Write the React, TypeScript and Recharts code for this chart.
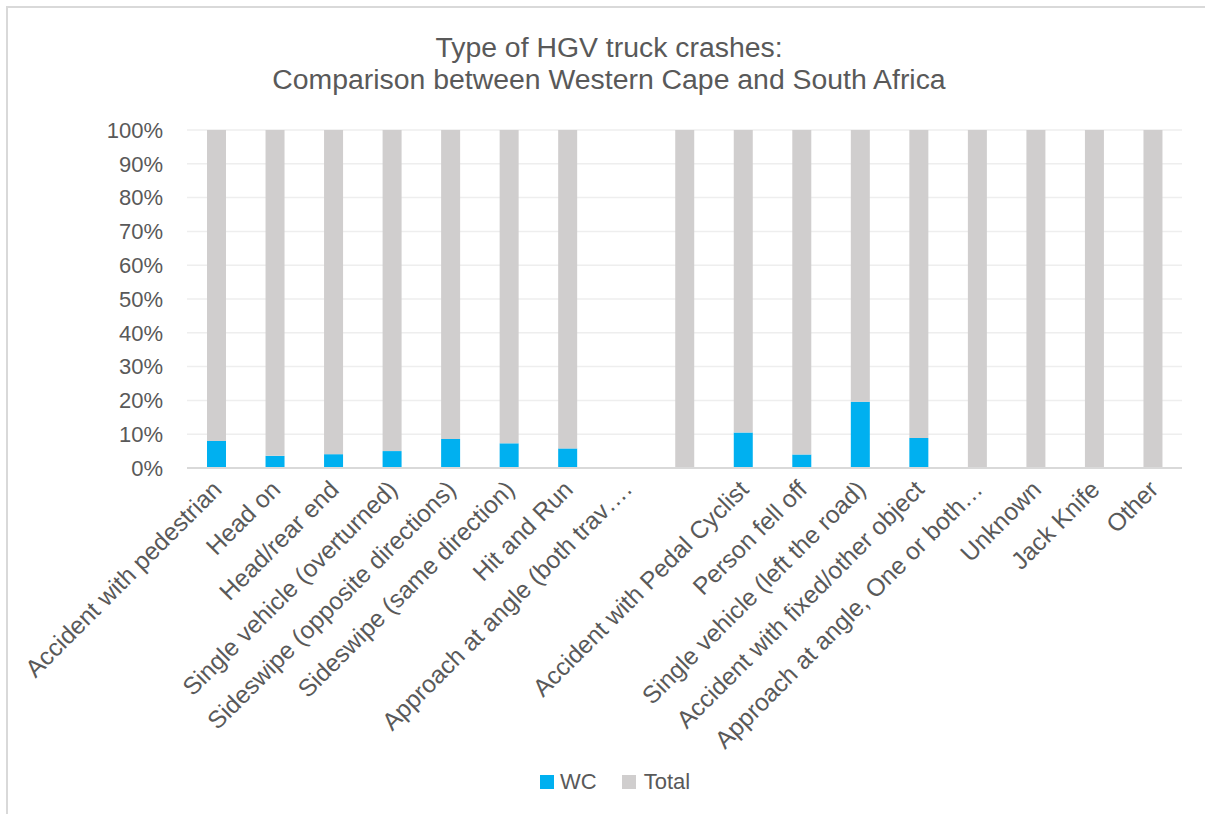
import React from 'react';
import { BarChart, Bar, XAxis, YAxis, CartesianGrid } from 'recharts';

const crashTypes = [
  'Accident with pedestrian',
  'Head on',
  'Head/rear end',
  'Single vehicle (overturned)',
  'Sideswipe (opposite directions)',
  'Sideswipe (same direction)',
  'Hit and Run',
  'Approach at angle (both trav….',
  '',
  'Accident with Pedal Cyclist',
  'Person fell off',
  'Single vehicle (left the road)',
  'Accident with fixed/other object',
  'Approach at angle, One or both…',
  'Unknown',
  'Jack Knife',
  'Other',
];

// share of each crash type (%), Western Cape vs rest of total
const wcShare = [8.0, 3.6, 4.1, 5.0, 8.6, 7.3, 5.8, 0, 0, 10.5, 4.0, 19.6, 8.9, 0, 0, 0, 0];
const totalShare = [92.0, 96.4, 95.9, 95.0, 91.4, 92.7, 94.2, 0, 100, 89.5, 96.0, 80.4, 91.1, 100, 100, 100, 100];

const percentTicks = [0, 10, 20, 30, 40, 50, 60, 70, 80, 90, 100];

const data = crashTypes.map((name, i) => ({ name, wc: wcShare[i], total: totalShare[i] }));

const FONT = '"Liberation Sans", Arial, sans-serif';
const TEXT = '#595959';

const CategoryTick = ({ x, y, payload }: any) => {
  const ax = x + 7;
  const ay = y + 15;
  return (
    <text
      x={ax}
      y={ay}
      transform={`rotate(-45 ${ax} ${ay})`}
      textAnchor="end"
      fill={TEXT}
      fontSize={24.5}
      fontFamily={FONT}
    >
      {payload.value}
    </text>
  );
};

const App = () => {
  return (
    <div style={{ position: 'absolute', left: 0, top: 0, width: 1205, height: 814, overflow: 'hidden', background: '#fff', fontFamily: FONT }}>
      <div
        style={{
          position: 'absolute',
          left: 6,
          top: 6,
          width: 1300,
          height: 900,
          borderTop: '2px solid #D9D9D9',
          borderLeft: '2px solid #D9D9D9',
        }}
      />
      <div style={{ position: 'absolute', left: 0, width: 1218, top: 31, textAlign: 'center', color: TEXT, fontSize: 28.4, lineHeight: '32px' }}>
        <div>Type of HGV truck crashes:</div>
        <div>Comparison between Western Cape and South Africa</div>
      </div>

      <div style={{ position: 'absolute', left: 0, top: 0 }}>
        <BarChart width={1205} height={814} data={data} margin={{ top: 130, right: 23, bottom: 0, left: 0 }}>
          <CartesianGrid vertical={false} stroke="#EEEEEE" strokeWidth={1.5} />
          <XAxis
            dataKey="name"
            interval={0}
            tickLine={false}
            axisLine={{ stroke: '#D9D9D9', strokeWidth: 2 }}
            height={346}
            tick={<CategoryTick />}
          />
          <YAxis
            domain={[0, 100]}
            ticks={percentTicks}
            tickFormatter={(v: number) => `${v}%`}
            axisLine={false}
            tickLine={false}
            tickSize={0}
            tickMargin={24}
            width={187}
            tick={{ fill: TEXT, fontSize: 22, fontFamily: FONT }}
          />
          <Bar dataKey="wc" name="WC" stackId="a" fill="#00B0F0" barSize={19} isAnimationActive={false} />
          <Bar dataKey="total" name="Total" stackId="a" fill="#D0CECE" barSize={19} isAnimationActive={false} />
        </BarChart>
      </div>

      <div style={{ position: 'absolute', top: 769, left: 540, display: 'flex', alignItems: 'center', color: TEXT, fontSize: 22 }}>
        <span style={{ width: 14, height: 14, background: '#00B0F0', display: 'inline-block', marginRight: 6 }} />
        <span style={{ marginRight: 25 }}>WC</span>
        <span style={{ width: 14, height: 14, background: '#D0CECE', display: 'inline-block', marginRight: 8 }} />
        <span>Total</span>
      </div>
    </div>
  );
};

export default App;
